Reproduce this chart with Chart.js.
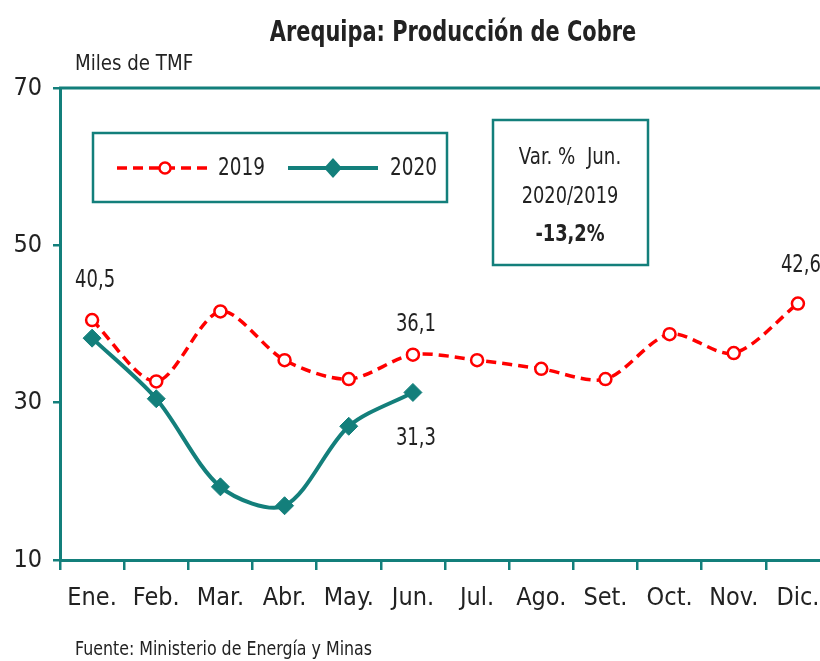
<!DOCTYPE html>
<html lang="es">
<head>
    <meta charset="UTF-8">
    <title>Arequipa: Producción de Cobre</title>
    <style>
        html, body { margin: 0; padding: 0; background: #fff; overflow: hidden; }
        #wrap { position: absolute; left: 0; top: 0; width: 840px; height: 661px; }
    </style>
</head>
<body>
    <div id="wrap"><canvas id="myChart" width="840" height="661"></canvas></div>

    <script src="https://cdn.jsdelivr.net/npm/chart.js@4.4.1/dist/chart.umd.min.js"></script>
    <script>
        // Data
        var months = ["Ene.", "Feb.", "Mar.", "Abr.", "May.", "Jun.", "Jul.", "Ago.", "Set.", "Oct.", "Nov.", "Dic."];
        var prod2019 = [40.5, 32.7, 41.6, 35.4, 33.0, 36.1, 35.4, 34.3, 33.0, 38.7, 36.3, 42.6];
        var prod2020 = [38.2, 30.5, 19.3, 16.9, 27.0, 31.3];
        var yTicks = [10, 30, 50, 70];

        // which points get a value label: [dataset, index, offset in px]
        var valueLabels = [[0, 0, -40], [0, 5, -30], [0, 11, -38], [1, 5, 46]];

        var FONT = "'Liberation Sans Narrow', 'Arial Narrow', 'DejaVu Sans Condensed', sans-serif";
        var TEAL = "#137f7b";
        var RED = "#ff0000";
        var TEXT = "#222222";

        // narrow text: squeeze horizontally so it looks like the condensed face of the original
        function narrowText(ctx, txt, x, y, font, align, sx) {
            ctx.save();
            ctx.font = font;
            ctx.textAlign = align;
            ctx.textBaseline = "middle";
            ctx.translate(x, y);
            ctx.scale(sx, 1);
            ctx.fillText(txt, 0, 0);
            ctx.restore();
        }

        // Draws title, unit, legend box, note box, value labels and the top border
        var decorations = {
            id: "decorations",
            afterDraw: function (chart) {
                var ctx = chart.ctx;
                var area = chart.chartArea;
                ctx.save();

                // top border line
                ctx.strokeStyle = TEAL;
                ctx.lineWidth = 3;
                ctx.beginPath();
                ctx.moveTo(area.left - 1, area.top);
                ctx.lineTo(area.right, area.top);
                ctx.stroke();

                ctx.fillStyle = TEXT;
                narrowText(ctx, "Arequipa: Producción de Cobre", 453, 34, "bold 28px " + FONT, "center", 0.83);
                narrowText(ctx, "Miles de TMF", 75, 64, "22px " + FONT, "left", 0.92);
                narrowText(ctx, "Fuente: Ministerio de Energía y Minas", 75, 650, "20px " + FONT, "left", 0.88);

                // legend box
                ctx.strokeStyle = TEAL;
                ctx.lineWidth = 2.5;
                ctx.strokeRect(93, 133, 354, 69);

                var ly = 168;
                ctx.strokeStyle = RED;
                ctx.lineWidth = 3.5;
                ctx.setLineDash([10, 6]);
                ctx.beginPath();
                ctx.moveTo(117, ly);
                ctx.lineTo(210, ly);
                ctx.stroke();
                ctx.setLineDash([]);
                ctx.fillStyle = "#fff";
                ctx.lineWidth = 2.5;
                ctx.beginPath();
                ctx.arc(165, ly, 5.5, 0, Math.PI * 2);
                ctx.fill();
                ctx.stroke();

                ctx.strokeStyle = TEAL;
                ctx.lineWidth = 4;
                ctx.beginPath();
                ctx.moveTo(288, ly);
                ctx.lineTo(378, ly);
                ctx.stroke();
                ctx.fillStyle = TEAL;
                ctx.beginPath();
                ctx.moveTo(333, ly - 10);
                ctx.lineTo(342, ly);
                ctx.lineTo(333, ly + 10);
                ctx.lineTo(324, ly);
                ctx.closePath();
                ctx.fill();

                ctx.fillStyle = TEXT;
                narrowText(ctx, "2019", 218, ly, "25px " + FONT, "left", 0.82);
                narrowText(ctx, "2020", 390, ly, "25px " + FONT, "left", 0.82);

                // note box
                ctx.strokeStyle = TEAL;
                ctx.lineWidth = 2.5;
                ctx.strokeRect(493, 120, 155, 145);
                narrowText(ctx, "Var. %  Jun.", 570, 158, "23px " + FONT, "center", 0.88);
                narrowText(ctx, "2020/2019", 570, 197, "23px " + FONT, "center", 0.86);
                narrowText(ctx, "-13,2%", 570, 235, "bold 23px " + FONT, "center", 0.86);

                // value labels
                valueLabels.forEach(function (v) {
                    var ds = chart.data.datasets[v[0]];
                    var pt = chart.getDatasetMeta(v[0]).data[v[1]];
                    var txt = ds.data[v[1]].toFixed(1).replace(".", ",");
                    narrowText(ctx, txt, pt.x + 3, pt.y + v[2], "25px " + FONT, "center", 0.8);
                });

                ctx.restore();
            }
        };

        var ctx = document.getElementById("myChart").getContext("2d");
        var chart = new Chart(ctx, {
            type: "line",
            data: {
                labels: months,
                datasets: [
                    {
                        label: "2019",
                        data: prod2019,
                        borderColor: RED,
                        borderWidth: 3.5,
                        borderDash: [10, 6],
                        tension: 0.3,
                        pointStyle: "circle",
                        pointRadius: 6,
                        pointBorderWidth: 2.5,
                        pointBackgroundColor: "#ffffff",
                        pointBorderColor: RED
                    },
                    {
                        label: "2020",
                        data: prod2020,
                        borderColor: TEAL,
                        borderWidth: 4,
                        tension: 0.3,
                        pointStyle: "rectRot",
                        pointRadius: 9,
                        pointBackgroundColor: TEAL,
                        pointBorderColor: TEAL,
                        pointBorderWidth: 1
                    }
                ]
            },
            options: {
                responsive: false,
                animation: false,
                layout: { padding: { top: 88, right: 4, left: 0, bottom: 0 } },
                plugins: {
                    legend: { display: false },
                    tooltip: { enabled: false }
                },
                scales: {
                    x: {
                        offset: true,
                        grid: {
                            offset: true,
                            drawOnChartArea: false,
                            color: TEAL,
                            lineWidth: 2.5,
                            tickLength: 10
                        },
                        border: { color: TEAL, width: 3 },
                        ticks: {
                            color: TEXT,
                            padding: 13,
                            font: { family: FONT, size: 25 }
                        },
                        afterFit: function (scale) { scale.height = 101; }
                    },
                    y: {
                        min: 10,
                        max: 70,
                        afterBuildTicks: function (scale) {
                            scale.ticks = yTicks.map(function (v) { return { value: v }; });
                        },
                        grid: {
                            drawOnChartArea: false,
                            color: TEAL,
                            lineWidth: 2.5,
                            tickLength: 7
                        },
                        border: { color: TEAL, width: 3 },
                        ticks: {
                            color: TEXT,
                            padding: 11,
                            font: { family: FONT, size: 25 }
                        },
                        afterFit: function (scale) { scale.width = 60; }
                    }
                }
            },
            plugins: [decorations]
        });
    </script>
</body>
</html>
